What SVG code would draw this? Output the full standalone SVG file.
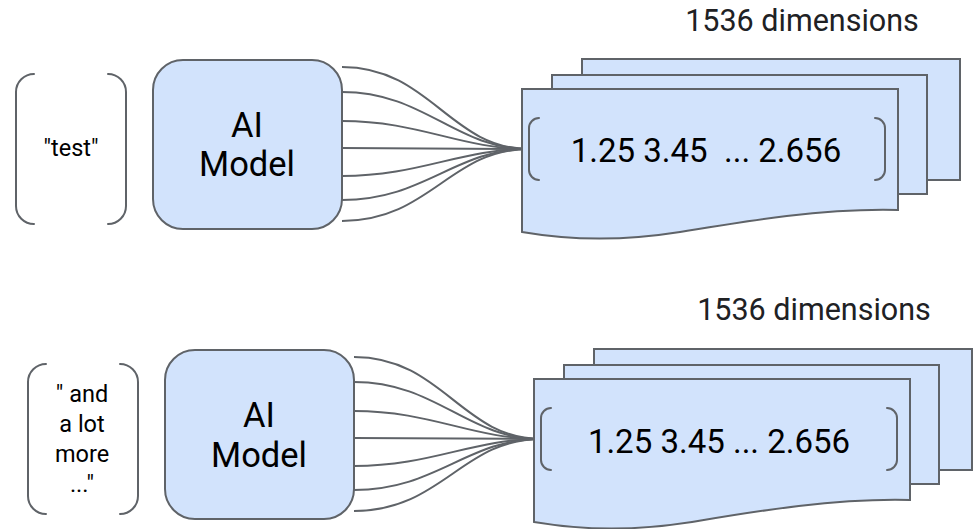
<svg xmlns="http://www.w3.org/2000/svg" width="975" height="529" viewBox="0 0 975 529">
  <style>
    .bracket { fill: none; stroke: #5f6368; stroke-width: 2; stroke-linecap: round; }
    .box { fill: #d2e3fc; stroke: #5f6368; stroke-width: 2; }
    .wire { fill: none; stroke: #5f6368; stroke-width: 2; }
    .label { font-family: Roboto, "Liberation Sans", sans-serif; fill: #000; text-anchor: middle; }
    .small { font-size: 23.5px; }
    .model { font-size: 34.5px; }
    .vec { font-size: 33px; white-space: pre; }
    .dims { font-size: 30.5px; fill: #202124; }
  </style>
  <defs>
    <!-- wire bundle from the model to the vector -->
    <g id="bundle">
      <path d="M342,67 C430,67 450,149 529,149"/>
      <path d="M342,92 C425,92 455,149 529,149"/>
      <path d="M342,121 C420,121 460,149 529,149"/>
      <path d="M342,148 L529,149"/>
      <path d="M342,176 C420,176 460,149 529,149"/>
      <path d="M342,200 C425,200 455,149 529,149"/>
      <path d="M342,221 C430,221 450,149 529,149"/>
    </g>
  </defs>

  <!-- first row: short input -->
  <g id="row-1">
    <g id="input-1">
      <path class="bracket" d="M34,74 A18,18 0 0 0 16,92 V206 A18,18 0 0 0 34,224"/>
      <path class="bracket" d="M108,74 A18,18 0 0 1 126,92 V206 A18,18 0 0 1 108,224"/>
      <text class="label small" x="71" y="156">"test"</text>
    </g>
    <g id="model-1">
      <rect class="box" x="153" y="60" width="189" height="169" rx="30" ry="30"/>
      <text class="label model" x="247" y="137">AI</text>
      <text class="label model" x="247" y="176">Model</text>
    </g>
    <g id="connectors-1" class="wire">
      <use href="#bundle"/>
    </g>
    <g id="vector-1">
      <text class="label dims" x="802" y="31">1536 dimensions</text>
      <rect class="box" x="582" y="59" width="378" height="121"/>
      <rect class="box" x="552" y="75" width="375" height="119"/>
      <path class="box" d="M522,89 H898 V210 C820,208 740,222 680,232 C630,240 580,242 522,232 Z"/>
      <path class="bracket" d="M539,118 A10,10 0 0 0 529,128 V170 A10,10 0 0 0 539,180"/>
      <path class="bracket" d="M875,118 A10,10 0 0 1 885,128 V170 A10,10 0 0 1 875,180"/>
      <text class="label vec" x="706" y="162">1.25 3.45  ... 2.656</text>
    </g>
  </g>

  <!-- second row: longer input, same layout shifted -->
  <g id="row-2" transform="translate(12,290)">
    <g id="input-2">
      <path class="bracket" d="M34,74 A18,18 0 0 0 16,92 V206 A18,18 0 0 0 34,224"/>
      <path class="bracket" d="M108,74 A18,18 0 0 1 126,92 V206 A18,18 0 0 1 108,224"/>
      <text class="label small" x="70" y="112">" and</text>
      <text class="label small" x="70" y="142">a lot</text>
      <text class="label small" x="70" y="172">more</text>
      <text class="label small" x="70" y="202">..."</text>
    </g>
    <g id="model-2">
      <rect class="box" x="153" y="60" width="189" height="169" rx="30" ry="30"/>
      <text class="label model" x="247" y="137">AI</text>
      <text class="label model" x="247" y="177">Model</text>
    </g>
    <g id="connectors-2" class="wire">
      <use href="#bundle"/>
    </g>
    <g id="vector-2">
      <text class="label dims" x="802" y="30">1536 dimensions</text>
      <rect class="box" x="582" y="59" width="378" height="121"/>
      <rect class="box" x="552" y="75" width="375" height="119"/>
      <path class="box" d="M522,89 H898 V210 C820,208 740,222 680,232 C630,240 580,242 522,232 Z"/>
      <path class="bracket" d="M539,118 A10,10 0 0 0 529,128 V170 A10,10 0 0 0 539,180"/>
      <path class="bracket" d="M875,118 A10,10 0 0 1 885,128 V170 A10,10 0 0 1 875,180"/>
      <text class="label vec" x="707" y="163">1.25 3.45 ... 2.656</text>
    </g>
  </g>
</svg>
